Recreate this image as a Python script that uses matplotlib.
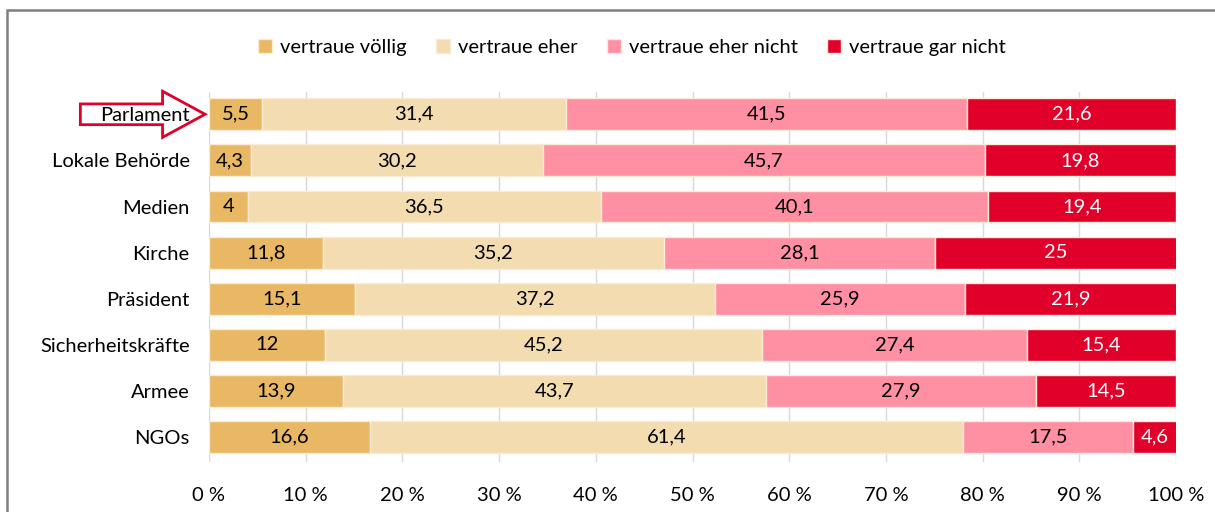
import numpy as np
import matplotlib.pyplot as plt
from matplotlib.patches import FancyArrow, Rectangle

plt.rcParams['font.family'] = ['Lato', 'DejaVu Sans']

# Data (percent)
categories = ["Parlament", "Lokale Behörde", "Medien", "Kirche",
              "Präsident", "Sicherheitskräfte", "Armee", "NGOs"]
series_names = ["vertraue völlig", "vertraue eher",
                "vertraue eher nicht", "vertraue gar nicht"]
voellig = [5.5, 4.3, 4, 11.8, 15.1, 12, 13.9, 16.6]
eher = [31.4, 30.2, 36.5, 35.2, 37.2, 45.2, 43.7, 61.4]
eher_nicht = [41.5, 45.7, 40.1, 28.1, 25.9, 27.4, 27.9, 17.5]
gar_nicht = [21.6, 19.8, 19.4, 25, 21.9, 15.4, 14.5, 4.6]
x_ticks = [0, 10, 20, 30, 40, 50, 60, 70, 80, 90, 100]

colors = ["#E8B864", "#F2DCB0", "#FF8FA3", "#E0002A"]
text_colors = ["black", "black", "black", "white"]
red = "#E0002A"
fs = 14.5

def fmt(v):
    return f"{v:g}".replace(".", ",")

fig = plt.figure(figsize=(12.15, 5.12), dpi=100)
ax = fig.add_axes([0.172, 0.0977, 0.796, 0.7223])

# Grey frame (only left and top edge fall inside the picture)
fig.patches.append(Rectangle((7 / 1215, -0.1), 1.2, 1.1 - 10 / 512,
                             transform=fig.transFigure, fill=False,
                             edgecolor="#7f7f7f", lw=1.8))

y = np.arange(len(categories))
left = np.zeros(len(categories))
for name, vals, col, tcol in zip(series_names,
                                 [voellig, eher, eher_nicht, gar_nicht],
                                 colors, text_colors):
    vals = np.array(vals, dtype=float)
    ax.barh(y, vals, left=left, height=0.69, color=col,
            edgecolor="#FBEBD6", linewidth=1, label=name)
    for yi, l, v in zip(y, left, vals):
        ax.text(l + v / 2, yi, fmt(v), ha="center", va="center",
                fontsize=fs, color=tcol)
    left += vals

ax.set_xlim(0, 100)
ax.set_ylim(len(categories) - 0.46, -0.48)
ax.set_xticks(x_ticks)
ax.set_xticklabels([f"{t} %" for t in x_ticks])
ax.set_yticks(y)
ax.set_yticklabels(categories)
ax.tick_params(axis="both", length=0, labelsize=fs)
ax.tick_params(axis="x", pad=18)
ax.tick_params(axis="y", pad=14)
ax.set_axisbelow(True)
ax.grid(axis="x", color="#D9D9D9", lw=1)
for s in ax.spines.values():
    s.set_visible(False)

# Hollow red arrow pointing at "Parlament"
arrow = FancyArrow(-13.3, 0, 12.9, 0, width=0.45, head_width=1.0,
                   head_length=4.4, length_includes_head=True,
                   facecolor="white", edgecolor=red, lw=2,
                   clip_on=False, zorder=0.4)
ax.add_patch(arrow)

fig.legend(loc="center", bbox_to_anchor=(0.520, 0.908), ncol=4,
           frameon=False, fontsize=fs, handlelength=0.7,
           handleheight=0.7, handletextpad=0.4, columnspacing=1.45)

fig.savefig("out.png", dpi=100)
